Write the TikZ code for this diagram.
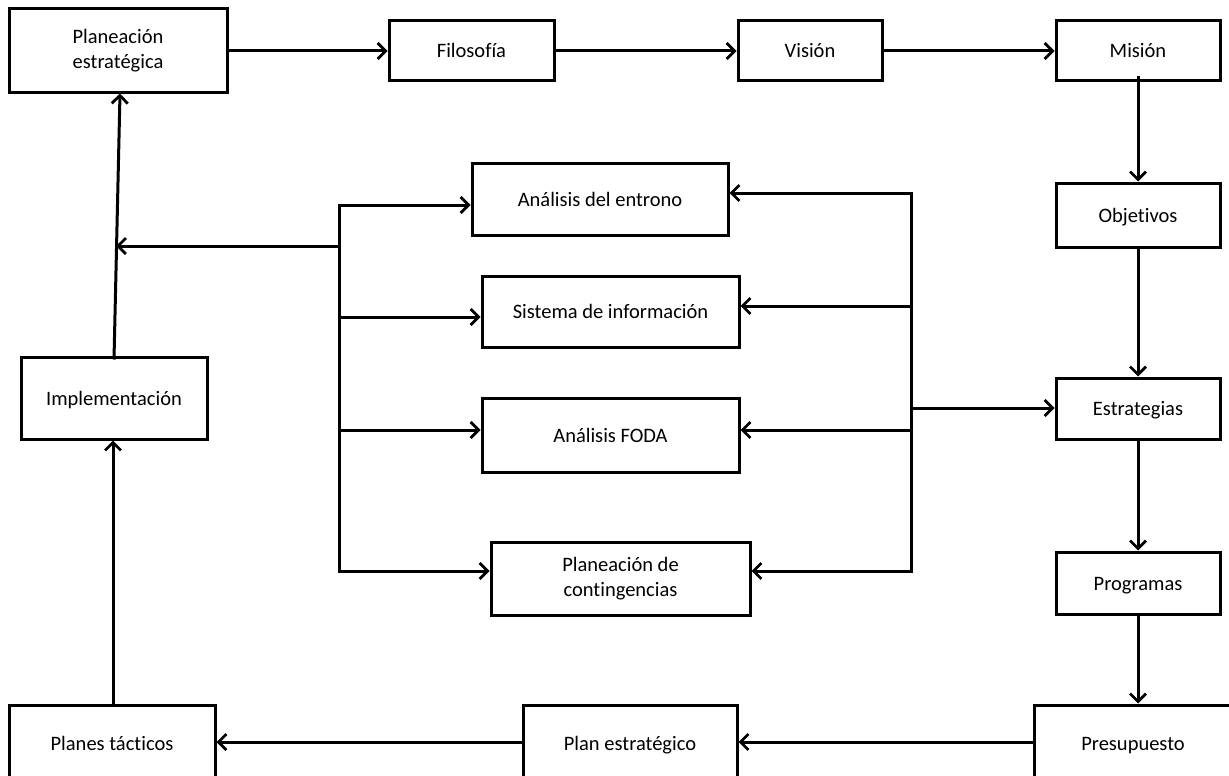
\documentclass[tikz,border=0pt]{standalone}
\usepackage{fontspec}
\setmainfont{Carlito}[RawFeature={-liga}]
\usetikzlibrary{arrows.meta}
\begin{document}
\begin{tikzpicture}[x=1pt,y=-1pt,
  line width=3pt,
  box/.style={draw, rectangle, inner sep=0pt, align=center,
    font=\fontsize{20.5}{25.5}\selectfont},
  one/.style={text height=17pt, text depth=3pt},
  arr/.style={-{Straight Barb[length=8pt,width=16pt,line width=2.8pt]}},
  line join=miter]
\useasboundingbox (0,0) rectangle (1229,776);
\clip (0,0) rectangle (1229,776);

% top row
\node[box, minimum width=218pt, minimum height=83pt] (pe) at (118,50.5) {Planeación\\estratégica};
\node[box, one, minimum width=165pt, minimum height=60pt] (fi) at (471.5,51) {Filosofía};
\node[box, one, minimum width=144pt, minimum height=60pt] (vi) at (810,51) {Visión};
\node[box, one, minimum width=164pt, minimum height=60pt] (mi) at (1138,51) {Misión};

% right column
\node[box, one, minimum width=164pt, minimum height=64pt] (ob) at (1138,215) {Objetivos};
\node[box, one, minimum width=164pt, minimum height=61pt] (es) at (1138,408.5) {Estrategias};
\node[box, one, minimum width=164pt, minimum height=62pt] (pr) at (1138,583) {Programas};

% bottom row
\node[box, one, minimum width=198pt, minimum height=76pt] (pu) at (1133,743) {Presupuesto};
\node[box, one, minimum width=214pt, minimum height=76pt] (pl) at (630,743) {Plan estratégico};
\node[box, one, minimum width=206pt, minimum height=76pt] (pt) at (112,743) {Planes tácticos};

% left column
\node[box, one, minimum width=186pt, minimum height=82pt] (im) at (114,398) {Implementación};

% central block
\node[box, one, minimum width=256pt, minimum height=72pt] (ae) at (600,199) {Análisis del entrono};
\node[box, one, minimum width=257pt, minimum height=71pt] (si) at (610.5,311.5) {Sistema de información};
\node[box, one, minimum width=257pt, minimum height=74pt] (fo) at (610.5,435) {Análisis FODA};
\node[box, minimum width=259pt, minimum height=73pt] (pc) at (620.5,578.5) {Planeación de\\contingencias};

% main cycle
\draw[arr] (pe.east |- 0,51) -- (fi.west |- 0,51);
\draw[arr] (fi) -- (vi);
\draw[arr] (vi) -- (mi);
\draw[arr] ([yshift=6pt]mi.south) -- (ob.north);
\draw[arr] (ob) -- (es);
\draw[arr] (es) -- (pr);
\draw[arr] (pr.south) -- (pr.south |- pu.north);
\draw[arr] (pu.west |- 0,742) -- (pl.east |- 0,742);
\draw[arr] (pl.west |- 0,742) -- (pt.east |- 0,742);
\draw[arr] (pt.north -| 113,0) -- (im.south -| 113,0);
\draw[arr] ([yshift=-4pt]im.north) -- ([xshift=2pt]pe.south);

% left distribution bracket
\coordinate (lt) at (339,205);
\coordinate (l1) at (339,246);
\coordinate (l2) at (339,317);
\coordinate (l3) at (339,430);
\coordinate (lb) at (339,571);
\coordinate (lm) at (116,246);
\draw[arr] (lb) -- (lt) -- (lt -| ae.west);
\draw[arr] (lt) -- (lb) -- (lb -| pc.west);
\draw[arr] (l2) -- (l2 -| si.west);
\draw[arr] (l3) -- (l3 -| fo.west);
\draw[arr] (l1) -- (lm);

% right distribution bracket
\coordinate (rt) at (911,193);
\coordinate (r2) at (911,306);
\coordinate (r4) at (911,408);
\coordinate (r3) at (911,430);
\coordinate (rb) at (911,571);
\draw[arr] (rb) -- (rt) -- (rt -| ae.east);
\draw[arr] (rt) -- (rb) -- (rb -| pc.east);
\draw[arr] (r2) -- (r2 -| si.east);
\draw[arr] (r3) -- (r3 -| fo.east);
\draw[arr] (r4) -- (r4 -| es.west);
\end{tikzpicture}
\end{document}
